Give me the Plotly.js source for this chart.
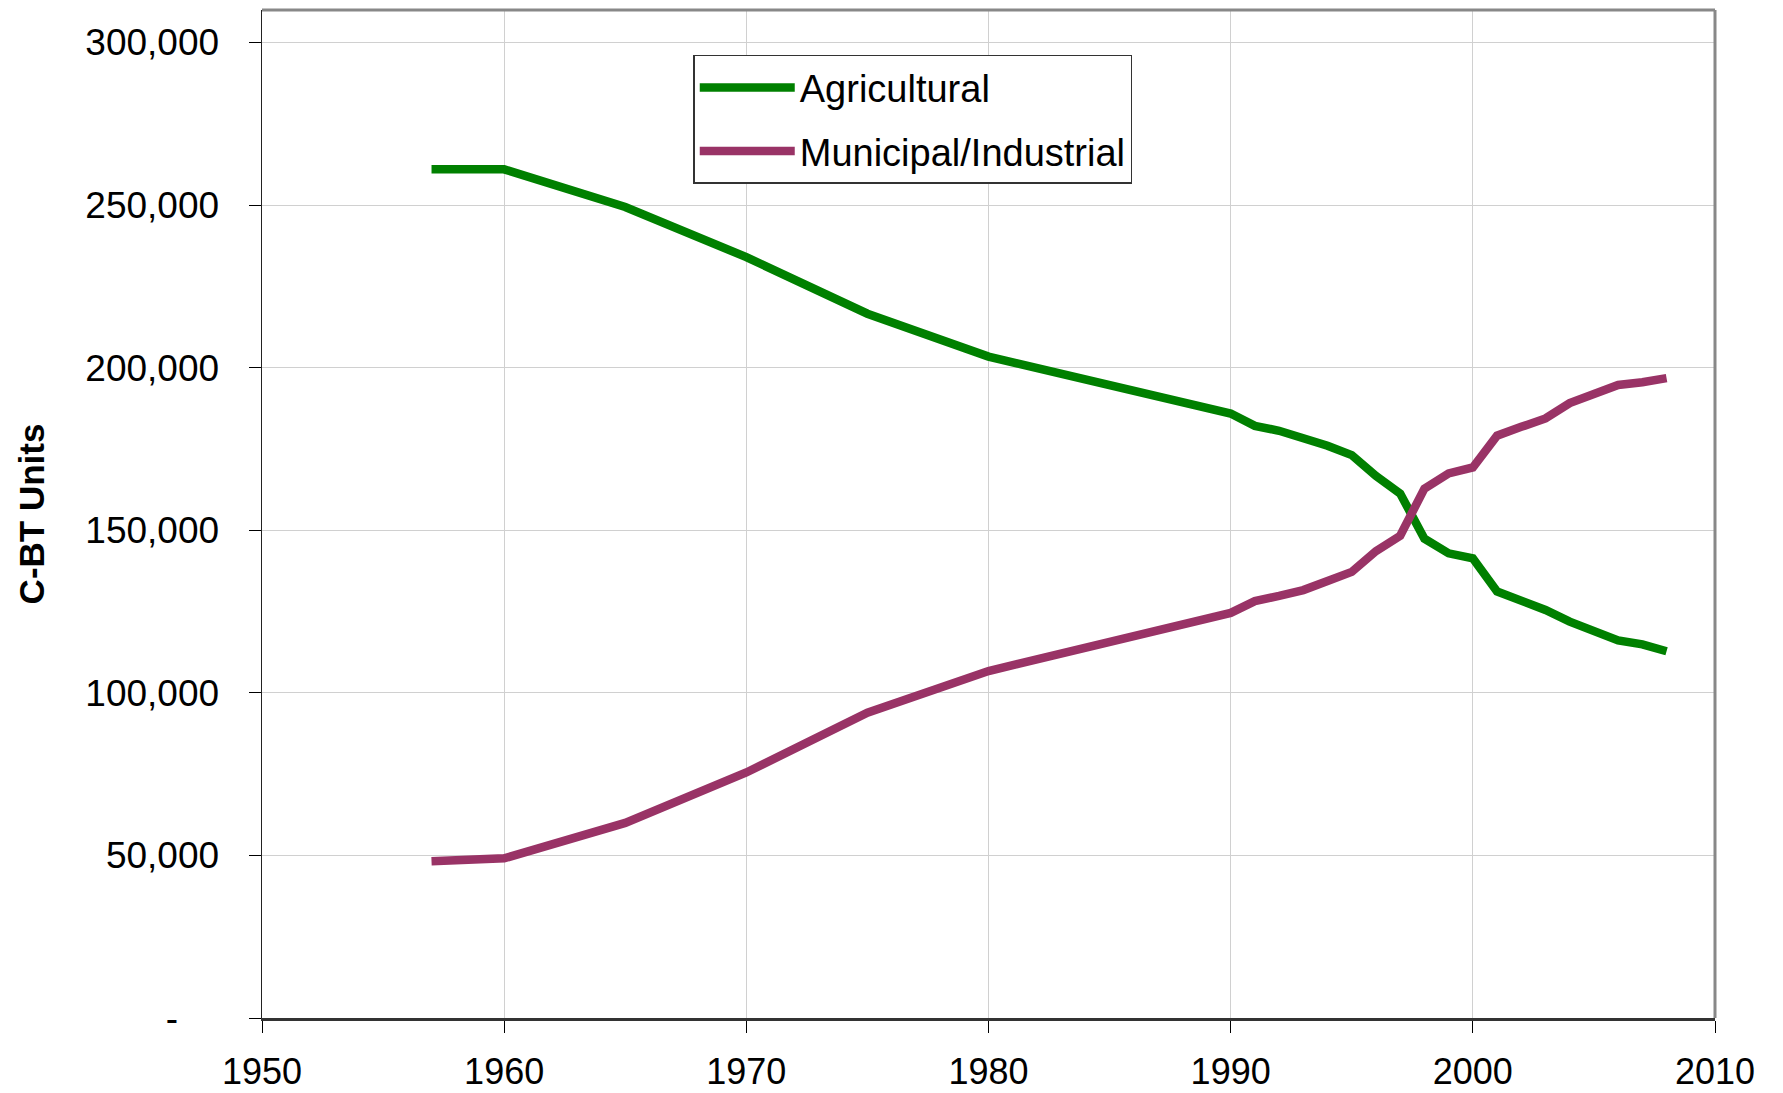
<!DOCTYPE html>
<html>
<head>
<meta charset="utf-8">
<script src="https://cdn.plot.ly/plotly-3.0.1.min.js"></script>
<style>html,body{margin:0;padding:0;background:#fff;}#chart{width:1783px;height:1093px;}</style>
</head>
<body>
<div id="chart"></div>
<script>
const years = [1957,1960,1965,1970,1975,1980,1990,1991,1992,1993,1994,1995,1996,1997,1998,1999,2000,2001,2002,2003,2004,2005,2006,2007,2008];
const agricultural = [261000,261000,249400,234000,216600,203400,185900,182100,180600,178500,176000,173100,166700,161300,147400,142900,141400,131200,128500,125500,121900,119000,116100,114900,112800];
const municipalIndustrial = [48200,49100,60000,75500,93900,106700,124600,128200,129800,131600,134400,137200,143600,148300,162800,167500,169300,179100,181800,184400,189100,191900,194700,195500,196800];
const yTickVals = [0,50000,100000,150000,200000,250000,300000];
const yTickText = ['-\u00a0\u00a0\u00a0\u00a0','50,000','100,000','150,000','200,000','250,000','300,000'];
const xTickVals = [1950,1960,1970,1980,1990,2000,2010];

const FONT = 'Liberation Sans, Arial, sans-serif';

const traces = [
  {x: years, y: agricultural, name: 'Agricultural', type: 'scatter', mode: 'lines',
   line: {color: '#008000', width: 8.5}, legendgroup: 'a'},
  {x: years, y: municipalIndustrial, name: 'Municipal/Industrial', type: 'scatter', mode: 'lines',
   line: {color: '#993366', width: 8.5}, legendgroup: 'b'}
];

const layout = {
  width: 1783, height: 1093,
  margin: {l: 262, r: 68, t: 10, b: 75},
  paper_bgcolor: '#ffffff', plot_bgcolor: '#ffffff',
  font: {family: FONT, color: '#000', size: 37},
  showlegend: true,
  legend: {
    x: 0.2968, y: 0.9555, xanchor: 'left', yanchor: 'top',
    bgcolor: '#ffffff', bordercolor: '#333333', borderwidth: 1.5,
    font: {family: FONT, size: 38, color: '#000'},
    itemwidth: 95, tracegroupgap: 11, traceorder: 'grouped'
  },
  xaxis: {
    range: [1950, 2010], tickvals: xTickVals, ticktext: xTickVals.map(String),
    showgrid: true, gridcolor: '#d0d0d0', gridwidth: 1,
    showline: true, linecolor: '#333333', linewidth: 2.5,
    ticks: 'outside', ticklen: 12, tickcolor: '#000', tickwidth: 1,
    ticklabelstandoff: 8,
    tickfont: {family: FONT, size: 36, color: '#000'},
    zeroline: false, fixedrange: true
  },
  yaxis: {
    range: [0, 310000], tickvals: yTickVals, ticktext: yTickText,
    showgrid: true, gridcolor: '#d0d0d0', gridwidth: 1,
    showline: true, linecolor: '#222222', linewidth: 1.5,
    ticks: 'outside', ticklen: 12, tickcolor: '#000', tickwidth: 1,
    ticklabelstandoff: 22,
    tickfont: {family: FONT, size: 37, color: '#000'},
    title: {text: 'C-BT Units', font: {family: FONT, size: 35, color: '#000', weight: 'bold'}, standoff: 30},
    zeroline: false, fixedrange: true
  },
  shapes: [
    {type: 'line', xref: 'paper', yref: 'paper', x0: 0, x1: 1, y0: 1, y1: 1, line: {color: '#888888', width: 3}},
    {type: 'line', xref: 'paper', yref: 'paper', x0: 1, x1: 1, y0: 0, y1: 1, line: {color: '#888888', width: 3}}
  ]
};

Plotly.newPlot('chart', traces, layout, {displayModeBar: false, staticPlot: true});
</script>
</body>
</html>
